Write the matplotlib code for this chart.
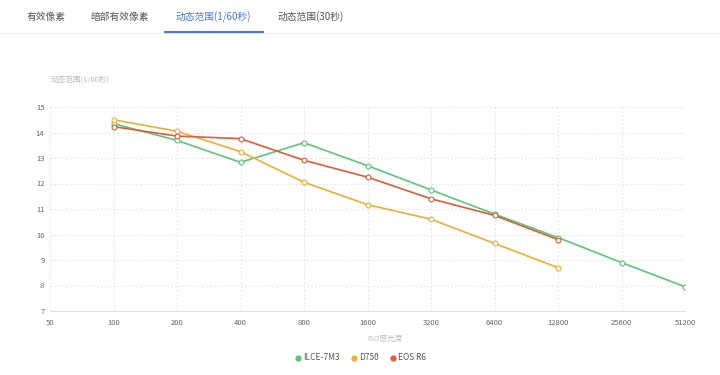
import matplotlib
matplotlib.use("Agg")
import matplotlib.pyplot as plt
from matplotlib.lines import Line2D
import matplotlib.ticker as ticker

plt.rcParams['font.family'] = ['Noto Sans CJK SC', 'DejaVu Sans']

# data
iso_ticks = [50, 100, 200, 400, 800, 1600, 3200, 6400, 12800, 25600, 51200]
iso_a7m3 = [100, 200, 400, 800, 1600, 3200, 6400, 12800, 25600, 51200]
dr_a7m3 = [14.35, 13.69, 12.83, 13.6, 12.7, 11.75, 10.8, 9.88, 8.9, 7.95]
iso_d750 = [100, 200, 400, 800, 1600, 3200, 6400, 12800]
dr_d750 = [14.5, 14.05, 13.25, 12.05, 11.17, 10.6, 9.65, 8.7]
iso_r6 = [100, 200, 400, 800, 1600, 3200, 6400, 12800]
dr_r6 = [14.23, 13.86, 13.76, 12.91, 12.25, 11.4, 10.75, 9.8]

tabs = ['有效像素', '暗部有效像素', '动态范围(1/60秒)', '动态范围(30秒)']
tab_x = [27, 90, 175, 277]
series_names = ['ILCE-7M3', 'D750', 'EOS R6']
colors = ['#5cc67b', '#f0ae30', '#e25b36']

W, H = 720, 375
fig = plt.figure(figsize=(7.2, 3.75), dpi=100)

# tab bar
for i, (t, x) in enumerate(zip(tabs, tab_x)):
    c = '#4a78d6' if i == 2 else '#555555'
    fig.text(x / W, 1 - 17 / H, t, fontsize=7, color=c, ha='left', va='center')
fig.add_artist(Line2D([0, 1], [1 - 33 / H] * 2, color='#eeeeee', lw=0.8))
fig.add_artist(Line2D([165 / W, 263 / W], [1 - 32 / H] * 2, color='#4a78d6', lw=1.5))

fig.text(51 / W, 1 - 80 / H, '动态范围(1/60秒)', fontsize=5.5, color='#bbbbbb', ha='left', va='center')

ax = fig.add_axes([50 / W, 1 - 311 / H, 635 / W, 204 / H])
ax.set_xscale('log', base=2)
ax.set_xlim(50, 51200)
ax.set_ylim(7, 15)

for xs, ys, c in zip([iso_a7m3, iso_d750, iso_r6], [dr_a7m3, dr_d750, dr_r6], colors):
    ax.plot(xs, ys, color=c, lw=1.2, marker='o', ms=3.5, mfc='white', mec=c, mew=0.8, zorder=3)

ax.xaxis.set_major_locator(ticker.FixedLocator(iso_ticks))
ax.xaxis.set_major_formatter(ticker.FixedFormatter([str(v) for v in iso_ticks]))
ax.xaxis.set_minor_locator(ticker.NullLocator())
ax.yaxis.set_major_locator(ticker.MultipleLocator(1))
ax.tick_params(axis='both', length=0, labelsize=5.5, labelcolor='#666666')
ax.tick_params(axis='x', pad=6)
ax.tick_params(axis='y', pad=4)
ax.grid(True, color='#e6e6e6', lw=0.7, ls=(0, (2, 2)))
for s in ['top', 'right', 'left']:
    ax.spines[s].set_visible(False)
ax.spines['bottom'].set_color('#e0e0e0')
ax.spines['bottom'].set_linewidth(0.8)

fig.text(385 / W, 1 - 339 / H, 'ISO感光度', fontsize=5.5, color='#bbbbbb', ha='center', va='center')

handles = [Line2D([], [], ls='none', marker='o', ms=3.5, color=c) for c in colors]
fig.legend(handles, series_names, loc='center', bbox_to_anchor=(360 / W, 1 - 358 / H), ncol=3,
           frameon=False, fontsize=6, handletextpad=0.1, columnspacing=1.2, handlelength=1.0,
           labelcolor='#555555')

fig.savefig('out.png', dpi=100)
